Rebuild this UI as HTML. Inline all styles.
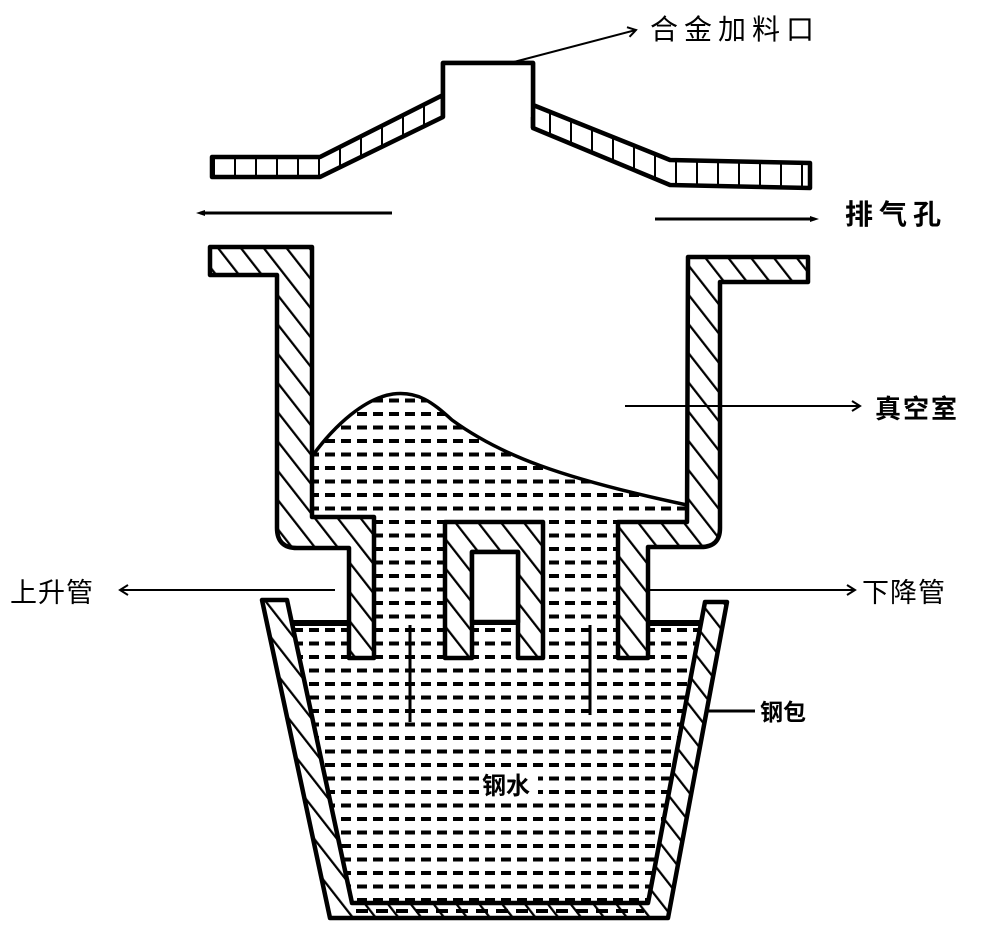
<!DOCTYPE html>
<html><head><meta charset="utf-8"><style>
html,body{margin:0;padding:0;background:#fff;width:1000px;height:926px;overflow:hidden}
svg{display:block}
text{font-family:"Liberation Sans","Noto Sans CJK SC",sans-serif;fill:#000}
</style></head><body>
<svg width="1000" height="926" viewBox="0 0 1000 926" xmlns="http://www.w3.org/2000/svg">
<defs>
<pattern id="hatch" width="18" height="18" patternUnits="userSpaceOnUse" patternTransform="rotate(-38)">
<rect width="18" height="18" fill="#fff"/>
<line x1="0" y1="0" x2="0" y2="18" stroke="#000" stroke-width="4.5"/>
</pattern>
<pattern id="dash" width="16" height="13.5" patternUnits="userSpaceOnUse" x="3" y="2">
<rect width="16" height="13.5" fill="#fff"/>
<rect x="2" y="5" width="10" height="4" fill="#000"/>
</pattern>
<pattern id="cells" width="21" height="40" patternUnits="userSpaceOnUse" x="3">
<rect width="21" height="40" fill="#fff"/>
<line x1="0" y1="0" x2="0" y2="40" stroke="#000" stroke-width="4"/>
</pattern>
<marker id="ar" markerWidth="12" markerHeight="12" refX="10" refY="6" orient="auto" markerUnits="userSpaceOnUse">
<path d="M2,1 L10,6 L2,11" fill="none" stroke="#000" stroke-width="2"/>
</marker>
<marker id="dot" markerWidth="10" markerHeight="10" refX="5" refY="5" orient="auto" markerUnits="userSpaceOnUse">
<path d="M0,2 L9,5 L0,8 Z" fill="#000"/>
</marker>
</defs>

<!-- lid -->
<g stroke="#000" stroke-width="4.5" stroke-linejoin="round">
<path d="M212,157 L320,157 L443,95 L443,117 L320,177 L212,177 Z" fill="url(#cells)"/>
<path d="M443,117 L443,63 L533,63 L533,105 L670,160 L810,163 L810,188 L670,185 L533,128 L533,105" fill="url(#cells)"/>
<rect x="445" y="65" width="86" height="52" fill="#fff" stroke="none"/>
<path d="M443,117 L443,63 L533,63 L533,128" fill="none"/>
</g>
<line x1="510" y1="63" x2="636" y2="30" stroke="#000" stroke-width="2" marker-end="url(#ar)"/>
<text x="650" y="39" font-size="28" letter-spacing="6">合金加料口</text>

<!-- exhaust arrows -->
<line x1="392" y1="213" x2="200" y2="213" stroke="#000" stroke-width="3" marker-end="url(#dot)"/>
<line x1="655" y1="219" x2="815" y2="219" stroke="#000" stroke-width="3" marker-end="url(#dot)"/>
<text x="845" y="224" font-size="28" font-weight="bold" letter-spacing="6">排气孔</text>

<!-- liquid in vessel -->
<path d="M313,455 C335,425 365,398 393,394 C418,391 432,402 452,420 C500,455 560,478 687,505 L687,522 L618,522 L618,625 L543,625 L543,522 L445,522 L445,625 L374,625 L374,517 L313,517 Z" fill="url(#dash)" stroke="none"/>
<path d="M313,455 C335,425 365,398 393,394 C418,391 432,402 452,420 C500,455 560,478 687,505" fill="none" stroke="#000" stroke-width="3.5"/>

<!-- ladle liquid -->
<polygon points="292,625 701,625 650,903 352,903" fill="url(#dash)"/>
<line x1="410" y1="625" x2="410" y2="722" stroke="#000" stroke-width="3"/>
<line x1="590" y1="625" x2="590" y2="715" stroke="#000" stroke-width="3"/>
<g stroke="#000" stroke-width="6">
<line x1="292" y1="623" x2="349" y2="623"/>
<line x1="648" y1="623" x2="701" y2="623"/>
<line x1="472" y1="622" x2="518" y2="622"/>
</g>

<!-- vessel walls -->
<g stroke="#000" stroke-width="4.5" stroke-linejoin="round" fill="url(#hatch)">
<path d="M210,247 L312,247 L312,517 L374,517 L374,658 L349,658 L349,548 L297,548 Q277,548 277,528 L277,275 L210,275 Z"/>
<path d="M688,257 L808,257 L808,282 L720,282 L720,528 Q720,547 701,547 L648,547 L648,658 L618,658 L618,522 L687,522 Z"/>
<path fill-rule="evenodd" d="M445,522 L543,522 L543,658 L518,658 L518,552 L472,552 L472,658 L445,658 Z"/>
<rect x="472" y="552" width="46" height="70" fill="#fff"/>
<!-- ladle -->
<path d="M262,600 L287,600 L352,903 L648,903 L705,602 L727,602 L668,918 L330,918 Z"/>
</g>
<line x1="356" y1="911" x2="644" y2="911" stroke="#000" stroke-width="4" stroke-dasharray="12,8"/>

<!-- labels -->
<line x1="625" y1="406" x2="860" y2="406" stroke="#000" stroke-width="2" marker-end="url(#ar)"/>
<text x="875" y="418" font-size="26" font-weight="bold" letter-spacing="2">真空室</text>
<line x1="335" y1="590" x2="120" y2="590" stroke="#000" stroke-width="2" marker-end="url(#ar)"/>
<text x="10" y="602" font-size="27" letter-spacing="1">上升管</text>
<line x1="650" y1="590" x2="855" y2="590" stroke="#000" stroke-width="2" marker-end="url(#ar)"/>
<text x="862" y="602" font-size="27" letter-spacing="1">下降管</text>
<line x1="705" y1="711" x2="755" y2="711" stroke="#000" stroke-width="3"/>
<text x="760" y="720" font-size="23" font-weight="bold">钢包</text>
<rect x="480" y="772" width="58" height="26" fill="#fff"/>
<text x="482" y="794" font-size="24" font-weight="bold">钢水</text>
</svg>
</body></html>
